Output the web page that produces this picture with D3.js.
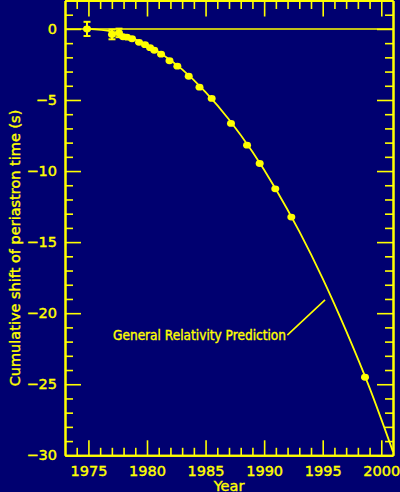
<!DOCTYPE html>
<html><head><meta charset="utf-8">
<script src="https://cdn.jsdelivr.net/npm/d3@7"></script>
<style>
html,body{margin:0;padding:0;background:#000070;}
svg{display:block;}
</style></head>
<body>
<svg id="chart" width="400" height="492"></svg>
<script>
// Observed data (year, cumulative shift in s, error)
const obsYears  = [1974.88, 1977.01, 1977.61, 1977.95, 1978.29, 1978.72, 1979.32, 1979.83, 1980.26, 1980.62, 1981.20, 1981.92, 1982.59, 1983.56, 1984.48, 1985.52, 1987.17, 1988.54, 1989.62, 1990.95, 1992.32, 1998.61];
const obsShift  = [0.00, -0.39, -0.28, -0.55, -0.58, -0.69, -0.94, -1.11, -1.32, -1.50, -1.78, -2.24, -2.62, -3.33, -4.10, -4.89, -6.65, -8.18, -9.47, -11.25, -13.24, -24.51];
const obsError  = [0.50, 0.34, 0.30, 0.15, 0.10, 0.10, 0.08, 0.08, 0.05, 0.05, 0.05, 0.05, 0.05, 0.05, 0.05, 0.05, 0.05, 0.05, 0.05, 0.05, 0.05, 0.05];
// General relativity prediction curve
const grYears   = [1974.9, 1977, 1979, 1981, 1983, 1985, 1987, 1989, 1991, 1993, 1995, 1997, 1999, 2001];
const grShift   = [0, -0.19, -0.73, -1.62, -2.85, -4.44, -6.37, -8.65, -11.28, -14.25, -17.57, -21.25, -25.26, -29.75];
// Ticks
const xMajor = [1975, 1980, 1985, 1990, 1995, 2000];
const xMinor = d3.range(1974, 2001, 1).filter(v => v % 5 !== 0);
const yMajor = [0, -5, -10, -15, -20, -25, -30];
const yMinor = d3.range(-29, 3, 1).filter(v => v % 5 !== 0);
const labels = {x: "Year", y: "Cumulative shift of periastron time (s)", note: "General Relativity Prediction"};

const YEL = "#ffff00";
const svg = d3.select("#chart");
const L = 65, R = 393, T = 0.5, B = 455.3;
const x = d3.scaleLinear().domain([1973, 2001]).range([L, R]);
const y = d3.scaleLinear().domain([-30, 2]).range([B, T]);

svg.append("rect").attr("width", 400).attr("height", 492).attr("fill", "#000070");

function styleAxis(g) {
  g.selectAll("path.domain").attr("stroke", YEL).attr("stroke-width", 2);
  g.selectAll(".tick line").attr("stroke", YEL).attr("stroke-width", 1.6);
  g.selectAll(".tick text").attr("fill", YEL).attr("stroke", YEL).attr("stroke-width", 0.4)
    .attr("font-family", "DejaVu Sans").attr("font-size", 14.5);
}

// bottom
svg.append("g").attr("transform", `translate(0,${B})`)
  .call(d3.axisBottom(x).tickValues(xMajor).tickFormat(d3.format("d")).tickSize(-15).tickSizeOuter(0).tickPadding(10))
  .call(styleAxis);
svg.append("g").attr("transform", `translate(0,${B})`)
  .call(d3.axisBottom(x).tickValues(xMinor).tickFormat("").tickSize(-7.5).tickSizeOuter(0))
  .call(styleAxis);
// top
svg.append("g").attr("transform", `translate(0,${T})`)
  .call(d3.axisTop(x).tickValues(xMajor).tickFormat("").tickSize(-16).tickSizeOuter(0))
  .call(styleAxis);
svg.append("g").attr("transform", `translate(0,${T})`)
  .call(d3.axisTop(x).tickValues(xMinor).tickFormat("").tickSize(-8.5).tickSizeOuter(0))
  .call(styleAxis);
// left
svg.append("g").attr("transform", `translate(${L},0)`)
  .call(d3.axisLeft(y).tickValues(yMajor).tickFormat(d3.format("d")).tickSize(-16).tickSizeOuter(0).tickPadding(8))
  .call(styleAxis);
svg.append("g").attr("transform", `translate(${L},0)`)
  .call(d3.axisLeft(y).tickValues(yMinor).tickFormat("").tickSize(-8).tickSizeOuter(0))
  .call(styleAxis);
// right
svg.append("g").attr("transform", `translate(${R},0)`)
  .call(d3.axisRight(y).tickValues(yMajor).tickFormat("").tickSize(-16).tickSizeOuter(0))
  .call(styleAxis);
svg.append("g").attr("transform", `translate(${R},0)`)
  .call(d3.axisRight(y).tickValues(yMinor).tickFormat("").tickSize(-8).tickSizeOuter(0))
  .call(styleAxis);

// zero line
svg.append("line").attr("x1", L).attr("x2", R).attr("y1", y(0)).attr("y2", y(0))
  .attr("stroke", YEL).attr("stroke-width", 1.6);

// GR curve
const gr = grYears.map((d, i) => [d, grShift[i]]);
svg.append("path").datum(gr)
  .attr("d", d3.line().x(d => x(d[0])).y(d => y(d[1])).curve(d3.curveMonotoneX))
  .attr("fill", "none").attr("stroke", YEL).attr("stroke-width", 1.8);

// observations
const obs = obsYears.map((d, i) => ({t: d, v: obsShift[i], e: obsError[i]}));
const og = svg.append("g");
og.selectAll("line.err").data(obs).join("line")
  .attr("x1", d => x(d.t)).attr("x2", d => x(d.t))
  .attr("y1", d => y(d.v + d.e)).attr("y2", d => y(d.v - d.e))
  .attr("stroke", YEL).attr("stroke-width", 2);
og.selectAll("line.capt").data(obs.filter(d => d.e > 0.2)).join("line")
  .attr("x1", d => x(d.t) - 3.5).attr("x2", d => x(d.t) + 3.5)
  .attr("y1", d => y(d.v + d.e)).attr("y2", d => y(d.v + d.e))
  .attr("stroke", YEL).attr("stroke-width", 2);
og.selectAll("line.capb").data(obs.filter(d => d.e > 0.2)).join("line")
  .attr("x1", d => x(d.t) - 3.5).attr("x2", d => x(d.t) + 3.5)
  .attr("y1", d => y(d.v - d.e)).attr("y2", d => y(d.v - d.e))
  .attr("stroke", YEL).attr("stroke-width", 2);
og.selectAll("ellipse").data(obs).join("ellipse")
  .attr("cx", d => x(d.t)).attr("cy", d => y(d.v)).attr("rx", 4).attr("ry", 3.4)
  .attr("fill", YEL);

// annotation
svg.append("line")
  .attr("x1", x(1991.98)).attr("y1", y(-21.54))
  .attr("x2", x(1995.2)).attr("y2", y(-19.07))
  .attr("stroke", YEL).attr("stroke-width", 1.6);
svg.append("text").attr("x", x(1977.1)).attr("y", y(-21.92))
  .attr("fill", YEL).attr("stroke", YEL).attr("stroke-width", 0.4)
  .attr("font-family", "DejaVu Sans").attr("font-size", 13.5)
  .attr("textLength", 173).attr("lengthAdjust", "spacingAndGlyphs")
  .text(labels.note);

// axis titles
svg.append("text").attr("x", (L + R) / 2).attr("y", 490.5).attr("text-anchor", "middle")
  .attr("fill", YEL).attr("stroke", YEL).attr("stroke-width", 0.4)
  .attr("font-family", "DejaVu Sans").attr("font-size", 14.5).text(labels.x);
svg.append("text").attr("transform", "translate(20,248) rotate(-90)").attr("text-anchor", "middle")
  .attr("fill", YEL).attr("stroke", YEL).attr("stroke-width", 0.4)
  .attr("font-family", "DejaVu Sans").attr("font-size", 14.5).text(labels.y);
</script>
</body></html>
